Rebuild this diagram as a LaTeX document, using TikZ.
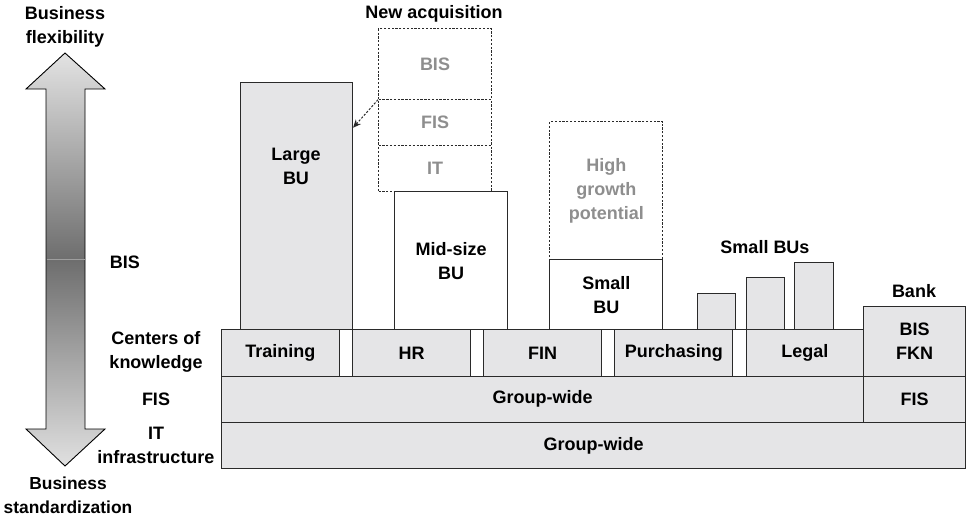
\documentclass[tikz,border=0pt]{standalone}
\usepackage{fontspec}
\setmainfont{Liberation Sans}
\usetikzlibrary{arrows.meta}
\definecolor{cellgray}{HTML}{E5E5E7}
\definecolor{edge}{HTML}{2A2A2A}
\definecolor{ghost}{HTML}{8E8E8E}
\begin{document}
\begin{tikzpicture}[x=1pt,y=-1pt,
  every node/.style={font=\fontsize{18}{23.8}\selectfont\bfseries, align=center},
  cell/.style={draw=edge, line width=1.1pt, fill=cellgray, inner sep=0pt, anchor=north west},
  whitecell/.style={cell, fill=white},
  ghostcell/.style={draw=edge, line width=1pt, dash pattern=on 2.2pt off 1.6pt, inner sep=0pt, anchor=north west, text=ghost},
  lbl/.style={inner sep=0pt}
]
\useasboundingbox (0,0) rectangle (967,520);

% scale arrow: flexibility (top) to standardization (bottom)
\shade[top color=black!11, bottom color=black!12, middle color=black!57, draw=black, line width=0.9pt]
  (65,53) -- (105,89) -- (85,89) -- (85,429) -- (105,429) -- (65,466)
  -- (26,429) -- (46,429) -- (46,89) -- (26,89) -- cycle;
\draw[black!38, line width=0.8pt] (46.5,259) -- (84.5,259);

\node[lbl] (flex) at (65,26.5) {Business\\flexibility};
\node[lbl, font=\fontsize{17.4}{23.8}\selectfont\bfseries] (std) at (68,495) {Business\\standardization};
\node[lbl] (bislbl) at (125,262) {BIS};
\node[lbl] (coklbl) at (156,352) {Centers of\\knowledge};
\node[lbl] (fislbl) at (156,399) {FIS};
\node[lbl] (itlbl) at (156,445) {IT\\infrastructure};

% business units
\node[cell, minimum width=112.5pt, minimum height=247.6pt] (large) at (239.5,81.7) {};
\node[lbl] at (296,166) {Large\\BU};
\node[whitecell, minimum width=112.7pt, minimum height=138.3pt] (mid) at (394.3,191) {Mid-size\\BU};
\node[whitecell, minimum width=113pt, minimum height=70pt] (small) at (549.3,259.3) {Small\\BU};
\node[ghostcell, minimum width=113pt, minimum height=138.3pt] (growth) at (549.3,121) {High\\growth\\potential};

% new acquisition stack
\node[lbl] (acq) at (434,14) {New acquisition};
\node[ghostcell, minimum width=113pt, minimum height=70.4pt] (acqbis) at (378,28.3) {BIS};
\node[ghostcell, minimum width=113pt, minimum height=46.3pt] (acqfis) at (378,98.7) {FIS};
\node[ghostcell, minimum width=113pt, minimum height=46pt] (acqit) at (378,145) {IT};
\draw[edge, line width=1pt, dash pattern=on 2.2pt off 1.6pt, -{Stealth[length=8pt,width=7pt]}]
  (acqbis.south west) -- ([yshift=-46pt]large.north east);

% small business units
\node[lbl] (smallbus) at (765,247) {Small BUs};
\node[cell, minimum width=38pt, minimum height=36.6pt] (sb1) at (696.7,292.7) {};
\node[cell, minimum width=38.3pt, minimum height=52pt] (sb2) at (745.7,277.3) {};
\node[cell, minimum width=38.7pt, minimum height=67.3pt] (sb3) at (794.3,262) {};

% bank
\node[lbl] (banklbl) at (914,291) {Bank};
\node[cell, minimum width=102pt, minimum height=70pt] (bank) at (863,305.7) {BIS\\FKN};

% centers of knowledge
\node[whitecell, minimum width=642pt, minimum height=46.2pt] (cokrow) at (221,329.3) {};
\node[cell, minimum width=117.7pt, minimum height=46.2pt] (training) at (221,329.3) {Training};
\node[cell, minimum width=117.7pt, minimum height=46.2pt] (hr) at (352.3,329.3) {HR};
\node[cell, minimum width=117.7pt, minimum height=46.2pt] (fin) at (483.3,329.3) {FIN};
\node[cell, minimum width=118pt, minimum height=46.2pt] (purch) at (614.3,329.3) {Purchasing};
\node[cell, minimum width=117.3pt, minimum height=46.2pt] (legal) at (745.7,329.3) {Legal};

% FIS and IT layers
\node[cell, minimum width=642.3pt, minimum height=46.5pt] (fisrow) at (221,375.5) {Group-wide};
\node[cell, minimum width=101.7pt, minimum height=46.5pt] (bankfis) at (863.3,375.5) {FIS};
\node[cell, minimum width=744pt, minimum height=46.3pt] (itrow) at (221,422) {Group-wide};
\end{tikzpicture}
\end{document}
